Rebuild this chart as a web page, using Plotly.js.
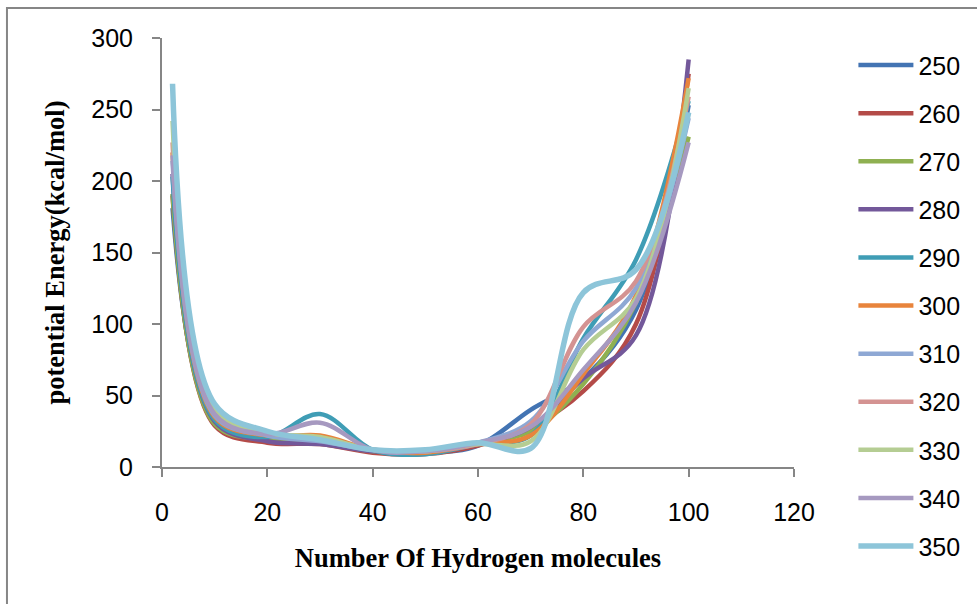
<!DOCTYPE html>
<html>
<head>
<meta charset="utf-8">
<script src="https://cdn.plot.ly/plotly-3.0.1.min.js"></script>
<style>
  html, body { margin: 0; padding: 0; background: #ffffff; }
  #chart { width: 977px; height: 604px; }
</style>
</head>
<body>
<div id="chart"></div>
<script>
// Number of hydrogen molecules sampled
const hydrogenCount = [2, 10, 20, 30, 40, 50, 60, 70, 80, 90, 100];

// Temperature series (K) and their potential energy values (kcal/mol)
const seriesNames = ['250', '260', '270', '280', '290', '300', '310', '320', '330', '340', '350'];

const energy250 = [181, 31, 18, 17, 11, 10, 15, 40, 62, 110, 253];
const energy260 = [190, 29, 17, 16, 10, 9, 15, 28, 53, 100, 275];
const energy270 = [191, 30, 19, 17, 11, 10, 17, 25, 58, 115, 231];
const energy280 = [205, 32, 18, 16, 11, 10, 16, 28, 62, 92, 285];
const energy290 = [203, 33, 21, 37, 12, 9, 16, 22, 90, 145, 256];
const energy300 = [220, 35, 22, 22, 12, 10, 16, 22, 65, 120, 272];
const energy310 = [214, 36, 22, 18, 12, 11, 17, 32, 88, 125, 244];
const energy320 = [227, 38, 24, 20, 12, 11, 16, 30, 98, 130, 259];
const energy330 = [242, 40, 24, 21, 12, 11, 16, 18, 82, 118, 265];
const energy340 = [218, 37, 23, 31, 12, 11, 17, 28, 68, 115, 227];
const energy350 = [268, 44, 25, 19, 12, 12, 17, 13, 122, 138, 248];

const energySeries = [energy250, energy260, energy270, energy280, energy290, energy300,
                      energy310, energy320, energy330, energy340, energy350];

const seriesColors = ['#4374B3', '#B44B48', '#8FB051', '#73589A', '#3F9DB5', '#E8843C',
                      '#8EA8D4', '#D49392', '#B5CD93', '#A699C0', '#8DC5D9'];

const xTicks = [0, 20, 40, 60, 80, 100, 120];
const yTicks = [0, 50, 100, 150, 200, 250, 300];

const traces = energySeries.map((vals, i) => ({
  type: 'scatter',
  mode: 'lines',
  name: seriesNames[i],
  legendgroup: 'g' + i,
  x: hydrogenCount,
  y: vals,
  line: { color: seriesColors[i], width: i === 10 ? 5.5 : 4.5, shape: 'spline', smoothing: 1 }
}));

const axisColor = '#868686';
const tickFont = { family: '"Liberation Sans", Arial, sans-serif', size: 25, color: '#000000' };
const titleFont = { family: '"Liberation Serif", "Times New Roman", serif', size: 26.5, color: '#000000', weight: 'bold' };

const layout = {
  width: 977,
  height: 604,
  margin: { l: 162, r: 179, t: 38, b: 137 },
  paper_bgcolor: '#ffffff',
  plot_bgcolor: '#ffffff',
  showlegend: true,
  legend: {
    x: 1.094, xanchor: 'left',
    y: 0.99, yanchor: 'top',
    font: tickFont,
    tracegroupgap: 12.6,
    itemwidth: 55,
    maxheight: 600,
    bgcolor: 'rgba(0,0,0,0)'
  },
  xaxis: {
    range: [0, 120],
    tickvals: xTicks,
    ticktext: xTicks.map(String),
    showgrid: false,
    zeroline: false,
    showline: true,
    linecolor: axisColor,
    linewidth: 2,
    ticks: 'outside',
    ticklen: 8,
    tickwidth: 2,
    tickcolor: axisColor,
    tickfont: tickFont,
    ticklabelstandoff: 14,
    title: { text: 'Number Of Hydrogen molecules', font: titleFont, standoff: 23 }
  },
  yaxis: {
    range: [0, 300],
    tickvals: yTicks,
    ticktext: yTicks.map(String),
    showgrid: false,
    zeroline: false,
    showline: true,
    linecolor: axisColor,
    linewidth: 2,
    ticks: 'outside',
    ticklen: 8,
    tickwidth: 2,
    tickcolor: axisColor,
    tickfont: tickFont,
    ticklabelstandoff: 14,
    title: { text: 'potential Energy(kcal/mol)', font: titleFont, standoff: 19 }
  },
  shapes: [{
    type: 'rect', xref: 'paper', yref: 'paper',
    x0: -0.2453, x1: 1.5, y0: -0.5, y1: 1.0699,
    line: { color: axisColor, width: 2 },
    fillcolor: 'rgba(0,0,0,0)',
    layer: 'below'
  }]
};

Plotly.newPlot('chart', traces, layout, { displayModeBar: false, staticPlot: true });
</script>
</body>
</html>
